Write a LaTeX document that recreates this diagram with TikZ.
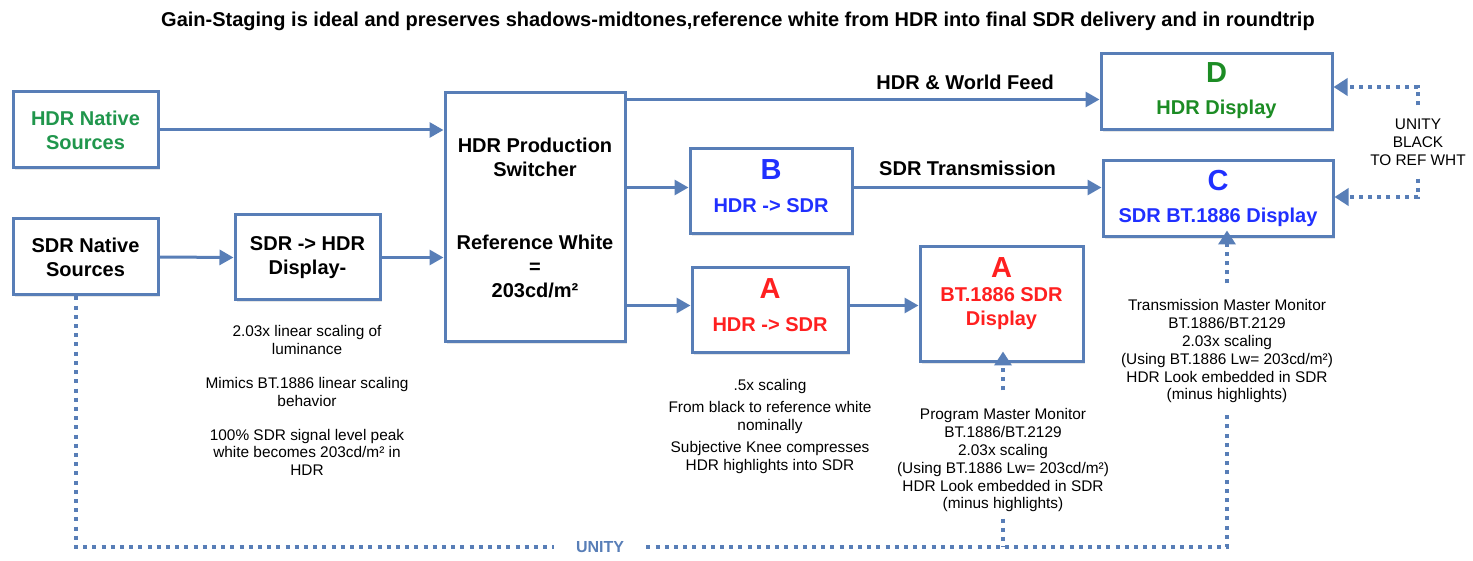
\documentclass[tikz,border=0pt]{standalone}
\usepackage{fontspec}
\setmainfont{Liberation Sans}
\usepackage{tikz}
\usetikzlibrary{positioning, arrows.meta, calc, shadows}
\definecolor{lineblue}{RGB}{88,126,183}
\definecolor{hdrgreen}{RGB}{32,150,76}
\definecolor{dgreen}{RGB}{28,140,36}
\definecolor{sdrblue}{RGB}{32,48,255}
\definecolor{sdrred}{RGB}{255,32,32}
\tikzset{
  process/.style={rectangle, draw=lineblue, line width=1.5pt, fill=white, align=center, font=\bfseries\fontsize{10}{12}\selectfont, drop shadow={shadow xshift=0.8pt, shadow yshift=-0.8pt, opacity=0.2}},
  note/.style={align=center, font=\fontsize{7.7}{8.9}\selectfont, inner sep=0pt},
  arrow/.style={line width=1.5pt, draw=lineblue, -{Triangle[length=7pt, width=7.5pt]}},
  unity/.style={line width=2pt, draw=lineblue, dash pattern=on 2pt off 2.6pt},
  unityarrow/.style={unity, -{Triangle[length=7pt, width=8.5pt]}}
}
\newcommand{\bigletter}[1]{{\fontsize{14.5}{16}\selectfont #1}}
\newcommand{\lift}[1]{\rule[-#1]{0pt}{#1}}

\begin{document}
\begin{tikzpicture}[x=0.5pt, y=-0.5pt]
  \useasboundingbox (0,0) rectangle (1473,561);

  % Titulo
  \node (title) at (738,21) [font=\bfseries\fontsize{10}{12}\selectfont] {Gain-Staging is ideal and preserves shadows-midtones,reference white from HDR into final SDR delivery and in roundtrip};

  % Fuentes
  \node (hdrsrc) [process, minimum width=72.5pt, minimum height=38pt, text=hdrgreen] at (85.5,130) {HDR Native\\Sources};
  \node (sdrsrc) [process, minimum width=72.5pt, minimum height=38pt] at (85.5,257) {SDR Native\\Sources};
  \node (sdrhdr) [process, minimum width=72.5pt, minimum height=42.5pt] at (307.5,257.5) {SDR -> HDR\\Display-};

  % Switcher
  \node (switcher) [process, minimum width=90pt, minimum height=124.5pt] at (535,217.5) {HDR Production\\Switcher\\[24.5pt]Reference White\\=\\203cd/m²};

  % Conversores y monitores
  \node (convB) [process, minimum width=81pt, minimum height=42.5pt, text=sdrblue] at (771,191.5) {\bigletter{B}\\[4.5pt]HDR -> SDR\lift{5.5pt}};
  \node (convA) [process, minimum width=78pt, minimum height=42.5pt, text=sdrred] at (770,310.5) {\bigletter{A}\\[4.5pt]HDR -> SDR\lift{5.5pt}};
  \node (dispA) [process, minimum width=81.5pt, minimum height=57.5pt, text=sdrred] at (1001.5,304.5) {\bigletter{A}\\BT.1886 SDR\\Display\lift{13pt}};
  \node (dispD) [process, minimum width=115.5pt, minimum height=38pt, text=dgreen] at (1216.5,92) {\bigletter{D}\\[4pt]HDR Display\lift{3pt}};
  \node (dispC) [process, minimum width=115pt, minimum height=38pt, text=sdrblue] at (1218,199) {\bigletter{C}\\[4pt]SDR BT.1886 Display\lift{3pt}};

  % Notas
  \node (sdrnote) [note, anchor=north] at (307,325) {2.03x linear scaling of\\luminance\\[8.1pt]Mimics BT.1886 linear scaling\\behavior\\[8.1pt]100\% SDR signal level peak\\white becomes 203cd/m² in\\HDR};
  \node (convnote) [note, anchor=north] at (770,379) {.5x scaling\\[2.1pt]From black to reference white\\nominally\\[2.1pt]Subjective Knee compresses\\HDR highlights into SDR};
  \node (pm) [note, inner ysep=3pt] at (1003,460.5) {Program Master Monitor\\BT.1886/BT.2129\\2.03x scaling\\(Using BT.1886 Lw= 203cd/m²)\\HDR Look embedded in SDR\\(minus highlights)};
  \node (tm) [note, inner ysep=4pt] at (1227,351.5) {Transmission Master Monitor\\BT.1886/BT.2129\\2.03x scaling\\(Using BT.1886 Lw= 203cd/m²)\\HDR Look embedded in SDR\\(minus highlights)};
  \node (ubw) [note, inner ysep=6.5pt] at (1418,142) {UNITY\\BLACK\\TO REF WHT};
  \node (unitylbl) [font=\bfseries\fontsize{8}{9}\selectfont, text=lineblue, inner xsep=11pt] at (600,547) {UNITY};

  % Conexiones principales
  \draw [arrow] (hdrsrc.east) -- (hdrsrc.east -| switcher.west);
  \draw [arrow] (sdrsrc.east) -- (sdrhdr.west);
  \draw [arrow] (sdrhdr.east) -- (sdrhdr.east -| switcher.west);
  \draw [arrow] ([yshift=-4pt]switcher.north east) -- ([yshift=-4pt]switcher.north east -| dispD.west)
    node (feedlbl) [pos=0.716, above=1pt, font=\bfseries\fontsize{10}{12}\selectfont] {HDR \& World Feed};
  \draw [arrow] ([yshift=2pt]convB.west -| switcher.east) -- ([yshift=2pt]convB.west);
  \draw [arrow] ([yshift=2pt]convB.east) -- ([yshift=2pt]convB.east -| dispC.west)
    node (txlbl) [pos=0.46, above=1.7pt, font=\bfseries\fontsize{10}{12}\selectfont] {SDR Transmission};
  \draw [arrow] ([yshift=2.5pt]convA.west -| switcher.east) -- ([yshift=2.5pt]convA.west);
  \draw [arrow] ([yshift=2.5pt]convA.east) -- ([yshift=2.5pt]convA.east -| dispA.west);

  % Lineas de unidad (punteadas)
  \draw [unityarrow] (ubw.north) |- ([yshift=2.5pt]dispD.east);
  \draw [unityarrow] (ubw.south) |- ([yshift=1pt]dispC.east);
  \draw [unityarrow] ([yshift=6pt]pm.north) -- ([yshift=6pt]pm.north |- dispA.south);
  \draw [unityarrow] ([yshift=4pt]tm.north) -- ([yshift=4pt]tm.north |- dispC.south);
  \draw [unity] ([xshift=-4.75pt]sdrsrc.south) |- (unitylbl.west);
  \draw [unity] (unitylbl.east) -| (tm.south);
  \draw [unity] (pm.south) -- (pm.south |- unitylbl.east);
\end{tikzpicture}
\end{document}
